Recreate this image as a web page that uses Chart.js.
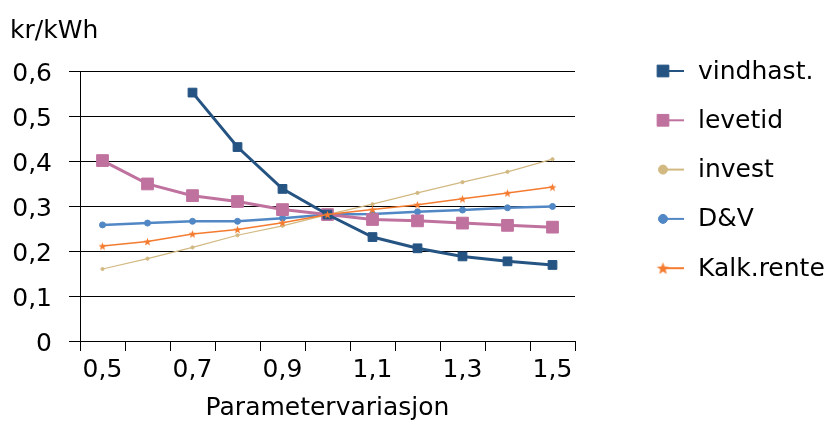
<!DOCTYPE html>
<html>
<head>
<meta charset="utf-8">
<script src="https://cdn.jsdelivr.net/npm/chart.js@4.4.1/dist/chart.umd.min.js"></script>
<style>
  body { margin: 0; background: #fff; }
</style>
</head>
<body>
<canvas id="chart" width="840" height="425"></canvas>
<script>
// categories (parameter variation)
let labels = ['0,5', '0,6', '0,7', '0,8', '0,9', '1,0', '1,1', '1,2', '1,3', '1,4', '1,5'];

// series, kr/kWh
let vindhast = [null, null, 0.552, 0.431, 0.338, 0.281, 0.231, 0.206, 0.188, 0.177, 0.169];
let levetid = [0.401, 0.349, 0.323, 0.310, 0.292, 0.281, 0.270, 0.267, 0.262, 0.257, 0.253];
let invest = [0.160, 0.183, 0.208, 0.235, 0.256, 0.281, 0.304, 0.329, 0.353, 0.376, 0.404];
let dv = [0.258, 0.262, 0.266, 0.266, 0.273, 0.281, 0.282, 0.287, 0.291, 0.296, 0.299];
let kalkrente = [0.211, 0.221, 0.238, 0.248, 0.263, 0.281, 0.292, 0.303, 0.316, 0.329, 0.342];

let fontFamily = "'DejaVu Sans', sans-serif";
let fontSize = 25;

// filled five point star used as marker
function starImage(outer, color) {
    let c = document.createElement('canvas');
    let s = Math.ceil(outer * 2 + 2);
    c.width = s;
    c.height = s;
    let g = c.getContext('2d');
    let inner = outer * 0.42;
    g.fillStyle = color;
    g.beginPath();
    for (let k = 0; k < 10; k++) {
        let r = k % 2 === 0 ? outer : inner;
        let a = -Math.PI / 2 + k * Math.PI / 5;
        let px = s / 2 + r * Math.cos(a);
        let py = s / 2 + 0.5 + r * Math.sin(a);
        if (k === 0) g.moveTo(px, py); else g.lineTo(px, py);
    }
    g.closePath();
    g.fill();
    return c;
}

let orange = '#f47b2f';
let starSmall = starImage(4.2, orange);
let starLegend = starImage(6.5, orange);

// legend + unit label drawn on the canvas
const extras = {
    id: 'extras',
    afterDraw(chart) {
        let ctx = chart.ctx;
        ctx.save();
        ctx.fillStyle = '#000';
        ctx.font = fontSize + 'px ' + fontFamily;
        ctx.textBaseline = 'alphabetic';
        ctx.textAlign = 'left';
        ctx.fillText('kr/kWh', 10, 38);

        chart.data.datasets.forEach((ds, i) => {
            let y = 71 + i * 49.3;
            ctx.strokeStyle = ds.borderColor;
            ctx.fillStyle = ds.borderColor;
            ctx.lineWidth = 2;
            ctx.beginPath();
            ctx.moveTo(662, y);
            ctx.lineTo(684, y);
            ctx.stroke();
            ctx.lineWidth = 1;
            Chart.helpers.drawPoint(ctx, {
                pointStyle: ds.legendStyle || ds.pointStyle,
                radius: ds.legendRadius,
                rotation: 0,
                borderWidth: 1
            }, 663, y);
            ctx.fillStyle = '#000';
            ctx.textBaseline = 'middle';
            ctx.font = fontSize + 'px ' + fontFamily;
            ctx.fillText(ds.label, 698, y + 1);
        });
        ctx.restore();
    }
};

function series(label, data, color, style, radius, width, order, legendRadius) {
    return {
        label: label,
        data: data,
        borderColor: color,
        backgroundColor: color,
        borderWidth: width,
        pointStyle: style,
        pointRadius: radius,
        pointHoverRadius: radius,
        pointBorderWidth: 1,
        tension: 0,
        fill: false,
        order: order,
        legendRadius: legendRadius
    };
}

let kalk = series('Kalk.rente', kalkrente, orange, starSmall, 4, 1.5, 0, 6);
kalk.legendStyle = starLegend;

new Chart(document.getElementById('chart'), {
    type: 'line',
    data: {
        labels: labels,
        datasets: [
            series('vindhast.', vindhast, '#255483', 'rect', 6.2, 3, 1, 8.3),
            series('levetid', levetid, '#c0729f', 'rect', 8.3, 3, 2, 8.3),
            series('invest', invest, '#d2b982', 'circle', 1.6, 1.2, 3, 4.5),
            series('D&V', dv, '#5087c4', 'circle', 3, 2.5, 4, 4.5),
            kalk
        ]
    },
    options: {
        responsive: false,
        animation: false,
        layout: { padding: { left: 10, right: 265, top: 71, bottom: 0 } },
        plugins: {
            legend: { display: false },
            tooltip: { enabled: false }
        },
        scales: {
            x: {
                offset: true,
                afterFit(scale) { scale.height = 84; },
                grid: {
                    offset: true,
                    drawOnChartArea: false,
                    drawTicks: true,
                    tickLength: 10,
                    color: '#000'
                },
                border: { color: '#000', width: 1 },
                ticks: {
                    autoSkip: false,
                    maxRotation: 0,
                    padding: 4,
                    color: '#000',
                    font: { family: fontFamily, size: fontSize },
                    callback: (v, i) => i % 2 === 0 ? labels[i] : ''
                },
                title: {
                    display: true,
                    text: 'Parametervariasjon',
                    color: '#000',
                    font: { family: fontFamily, size: fontSize },
                    padding: { top: 0, bottom: 2 }
                }
            },
            y: {
                min: 0,
                max: 0.6,
                afterFit(scale) { scale.width = 70; },
                grid: {
                    color: '#000',
                    lineWidth: 1,
                    tickLength: 11
                },
                border: { color: '#000', width: 1 },
                ticks: {
                    stepSize: 0.1,
                    padding: 17,
                    labelOffset: 3,
                    color: '#000',
                    font: { family: fontFamily, size: fontSize },
                    callback: v => v === 0 ? '0' : v.toFixed(1).replace('.', ',')
                }
            }
        }
    },
    plugins: [extras]
});
</script>
</body>
</html>
